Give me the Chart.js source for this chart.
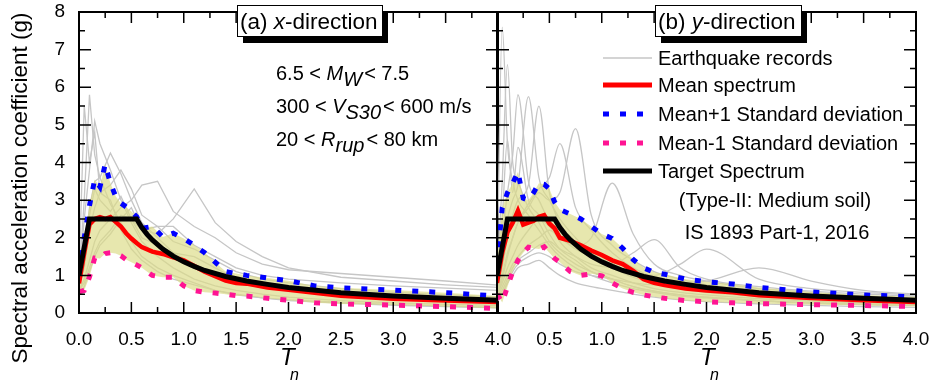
<!DOCTYPE html>
<html>
<head>
<meta charset="utf-8">
<script src="https://cdn.jsdelivr.net/npm/chart.js@4.4.1/dist/chart.umd.min.js"></script>
<style>
    body { margin: 0; background: #fff; }
    #grafici { position: relative; width: 932px; height: 382px; }
    #grafici canvas { position: absolute; left: 0; top: 0; }
</style>
</head>
<body>
<div id="grafici">
    <canvas id="chart-x" width="932" height="382"></canvas>
    <canvas id="chart-y" width="932" height="382"></canvas>
</div>
<script>
// ---------------- dati ----------------
// spettro di progetto IS 1893 (terreno medio)
var periodiTarget = [0, 0.1, 0.55, 0.6, 0.65, 0.7, 0.8, 0.9, 1.0, 1.1, 1.2, 1.4, 1.6, 1.8, 2.0, 2.5, 3.0, 3.5, 4.0];
var spettroTarget = [1.0, 2.5, 2.5, 2.27, 2.09, 1.94, 1.70, 1.51, 1.36, 1.24, 1.13, 0.97, 0.85, 0.76, 0.68, 0.54, 0.45, 0.39, 0.34];

// media e +/- 1 deviazione standard
var periodiMedia = [0, 0.05, 0.1, 0.15, 0.2, 0.25, 0.3, 0.35, 0.4, 0.45, 0.5, 0.55, 0.6, 0.7, 0.8, 0.9, 1.0, 1.1, 1.2, 1.3, 1.4, 1.5, 1.6, 1.8, 2.0, 2.25, 2.5, 3.0, 3.5, 4.0];
var mediaX   = [0.79, 1.6, 2.35, 2.5, 2.55, 2.5, 2.55, 2.42, 2.3, 2.12, 1.98, 1.86, 1.75, 1.63, 1.57, 1.48, 1.40, 1.25, 1.10, 0.98, 0.86, 0.80, 0.78, 0.68, 0.62, 0.54, 0.46, 0.38, 0.33, 0.29];
var piuSdX   = [1.06, 2.0, 2.85, 3.55, 3.35, 3.95, 3.45, 3.1, 2.92, 2.82, 2.7, 2.56, 2.25, 2.3, 2.02, 2.12, 1.98, 1.8, 1.6, 1.35, 1.1, 1.05, 1.0, 0.93, 0.86, 0.72, 0.67, 0.61, 0.54, 0.45];
var menoSdX  = [0.56, 0.6, 0.96, 1.46, 1.45, 1.58, 1.6, 1.58, 1.52, 1.42, 1.35, 1.28, 1.2, 1.0, 0.95, 0.95, 0.72, 0.6, 0.55, 0.53, 0.5, 0.46, 0.45, 0.39, 0.34, 0.27, 0.24, 0.21, 0.17, 0.12];
var mediaY   = [0.8, 1.6, 2.15, 2.4, 2.72, 2.35, 2.4, 2.45, 2.56, 2.6, 2.38, 2.25, 2.0, 1.92, 1.8, 1.66, 1.54, 1.4, 1.3, 1.12, 0.9, 0.8, 0.74, 0.65, 0.6, 0.55, 0.47, 0.4, 0.34, 0.29];
var piuSdY   = [1.3, 2.8, 3.2, 3.45, 3.75, 3.05, 3.0, 3.2, 3.45, 3.42, 3.3, 2.95, 2.75, 2.63, 2.5, 2.3, 2.1, 1.98, 1.72, 1.42, 1.2, 1.08, 1.03, 0.9, 0.83, 0.77, 0.68, 0.56, 0.48, 0.43];
var menoSdY  = [0.5, 0.28, 0.7, 1.1, 1.4, 1.6, 1.75, 1.72, 1.7, 1.76, 1.6, 1.45, 1.35, 1.1, 1.0, 1.04, 0.99, 0.8, 0.65, 0.55, 0.48, 0.43, 0.39, 0.33, 0.3, 0.27, 0.25, 0.22, 0.2, 0.17];

// registrazioni sismiche (grigio)
var periodiRecord = [0, 0.05, 0.1, 0.15, 0.2, 0.3, 0.4, 0.5, 0.6, 0.75, 0.9, 1.1, 1.3, 1.5, 1.75, 2.0, 2.5, 3.0, 3.5, 4.0];
var recX1 = [0.9, 3.0, 5.8, 4.2, 3.6, 2.9, 2.4, 1.9, 1.5, 1.2, 1.0, 0.8, 0.6, 0.5, 0.4, 0.35, 0.28, 0.22, 0.18, 0.15];
var recX2 = [1.0, 5.5, 4.0, 4.8, 3.2, 3.0, 2.2, 1.7, 1.4, 1.1, 0.9, 0.75, 0.6, 0.48, 0.4, 0.33, 0.26, 0.2, 0.17, 0.14];
var recX3 = [0.8, 2.5, 3.8, 5.1, 4.5, 3.8, 3.0, 2.4, 1.9, 1.5, 1.2, 0.9, 0.72, 0.6, 0.5, 0.42, 0.33, 0.27, 0.23, 0.2];
var recX4 = [0.8, 1.6, 2.8, 3.5, 3.6, 4.25, 3.7, 3.0, 2.4, 2.0, 1.6, 1.3, 1.0, 0.8, 0.68, 0.6, 0.5, 0.45, 0.4, 0.35];
var recX5 = [0.7, 1.2, 2.2, 2.8, 3.2, 3.4, 3.8, 3.3, 2.6, 2.3, 1.9, 1.7, 1.4, 1.1, 0.9, 0.8, 0.65, 0.55, 0.48, 0.42];
var recX6 = [0.6, 0.9, 1.4, 1.9, 2.2, 2.5, 2.8, 3.0, 3.4, 3.5, 2.7, 2.3, 2.0, 1.6, 1.3, 1.15, 1.05, 0.95, 0.85, 0.74];
var recX7 = [0.6, 0.8, 1.2, 1.6, 1.9, 2.2, 2.6, 2.5, 2.2, 2.1, 2.5, 3.3, 2.4, 1.9, 1.5, 1.2, 0.95, 0.85, 0.75, 0.68];
var recX8 = [0.5, 0.7, 1.1, 1.5, 1.8, 2.1, 2.5, 2.8, 2.2, 2.3, 2.3, 1.8, 1.5, 1.2, 1.0, 0.9, 0.8, 0.72, 0.66, 0.6];
var recX9 = [0.7, 1.4, 2.6, 3.3, 3.0, 2.7, 3.1, 2.5, 2.0, 1.8, 1.6, 1.5, 1.2, 0.9, 0.75, 0.6, 0.5, 0.42, 0.36, 0.3];

var recY1  = [0.8, 7.6, 4.5, 3.5, 3.0, 2.6, 2.2, 1.8, 1.5, 1.2, 1.0, 0.8, 0.65, 0.55, 0.45, 0.4, 0.32, 0.26, 0.22, 0.2];
var recY2  = [0.9, 3.5, 6.6, 4.0, 3.5, 2.8, 2.4, 1.9, 1.6, 1.3, 1.1, 0.9, 0.7, 0.58, 0.48, 0.42, 0.33, 0.27, 0.23, 0.2];
var recY3  = [0.7, 2.0, 3.2, 4.2, 5.8, 3.5, 3.0, 2.4, 1.9, 1.5, 1.2, 1.0, 0.8, 0.65, 0.55, 0.48, 0.38, 0.32, 0.27, 0.24];
var recY4  = [0.6, 1.5, 2.5, 3.0, 3.4, 5.75, 3.6, 3.0, 2.5, 2.0, 1.6, 1.3, 1.0, 0.8, 0.68, 0.58, 0.46, 0.38, 0.32, 0.28];
var recY5  = [0.5, 1.0, 1.6, 2.0, 2.4, 2.8, 3.2, 3.0, 3.2, 4.9, 2.6, 1.8, 1.4, 1.1, 0.9, 0.75, 0.6, 0.5, 0.42, 0.36];
var recY6  = [0.5, 0.8, 1.2, 1.5, 1.8, 2.2, 2.5, 2.3, 2.0, 1.8, 2.0, 3.45, 2.1, 1.3, 1.0, 0.85, 0.65, 0.55, 0.45, 0.4];
var recY7  = [0.4, 0.7, 1.0, 1.3, 1.5, 1.8, 2.0, 2.2, 2.0, 1.7, 1.5, 1.3, 1.6, 1.95, 1.2, 0.9, 0.7, 0.58, 0.5, 0.45];
var recY8  = [0.4, 0.6, 0.9, 1.2, 1.4, 1.6, 1.8, 1.9, 1.7, 1.5, 1.3, 1.2, 1.1, 1.0, 1.3, 1.7, 0.9, 0.65, 0.55, 0.48];
var recY9  = [0.3, 0.5, 0.8, 1.1, 1.3, 1.5, 1.6, 1.5, 1.3, 1.1, 1.0, 0.9, 0.8, 0.75, 0.8, 0.85, 1.2, 0.85, 0.6, 0.5];
var recY10 = [0.3, 0.5, 0.8, 1.0, 1.2, 1.3, 1.4, 1.2, 1.0, 0.8, 0.7, 0.6, 0.5, 0.42, 0.35, 0.3, 0.24, 0.2, 0.17, 0.15];
var recY11 = [0.5, 1.2, 2.0, 2.6, 3.0, 3.4, 5.5, 3.2, 2.4, 1.9, 1.5, 1.2, 0.95, 0.78, 0.64, 0.55, 0.44, 0.36, 0.3, 0.26];
var recY12 = [0.4, 0.9, 1.5, 2.0, 2.4, 2.9, 3.3, 3.6, 4.5, 2.8, 2.2, 1.6, 1.2, 0.95, 0.8, 0.68, 0.52, 0.43, 0.36, 0.31];
var recY13 = [0.6, 2.5, 4.6, 3.2, 4.4, 3.0, 2.6, 2.1, 1.7, 1.4, 1.1, 0.9, 0.7, 0.58, 0.48, 0.42, 0.33, 0.27, 0.23, 0.2];

// --------------------------------------------------------
var FONT = '"Liberation Sans", Arial, Helvetica, sans-serif';
Chart.defaults.font.family = FONT;
Chart.defaults.color = '#000';

function punti(periodi, valori) {
    return periodi.map(function(t, i) { return { x: t, y: valori[i] }; });
}

function creaDatasets(media, piuSd, menoSd, records, liscio) {
    var ds = [
        { label: 'Target Spectrum', data: punti(periodiTarget, spettroTarget), borderColor: '#000000', borderWidth: 5, order: 1 },
        { label: 'Mean spectrum', data: punti(periodiMedia, media), borderColor: '#ff0000', borderWidth: 4.5, order: 2 },
        { label: 'Mean-1 Standard deviation', data: punti(periodiMedia, menoSd), borderColor: '#ff1493', borderWidth: 5, borderDash: [6, 11], order: 3 },
        { label: 'Mean+1 Standard deviation', data: punti(periodiMedia, piuSd), borderColor: '#0000ff', borderWidth: 5, borderDash: [6, 11], order: 4,
          fill: { target: 2 }, backgroundColor: 'rgba(220,220,135,0.68)' }
    ];
    records.forEach(function(r) {
        ds.push({ label: 'Earthquake records', data: punti(periodiRecord, r), borderColor: '#c6c6c6', borderWidth: 1.3, order: 10,
                  cubicInterpolationMode: liscio ? 'monotone' : 'default' });
    });
    return ds;
}

function opzioni(destra) {
    var y = {
        type: 'linear', min: 0, max: 8, display: !destra,
        grid: { display: false, drawTicks: false }, border: { display: false },
        ticks: { stepSize: 1, padding: 14, font: { size: 19 } }
    };
    if (!destra) {
        // larghezza fissa, e niente spazio extra sopra per l'etichetta "8"
        y.afterFit = function(s) { s.width = 79; s.paddingTop = 0; s.paddingBottom = 0; };
    }
    return {
        responsive: false,
        animation: false,
        layout: { padding: destra ? { left: 497, right: 16, top: 12, bottom: 0 } : { left: 0, right: 434, top: 12, bottom: 0 } },
        elements: { point: { radius: 0 }, line: { tension: 0 } },
        plugins: { legend: { display: false }, tooltip: { enabled: false } },
        scales: {
            x: {
                type: 'linear', min: 0, max: 4,
                grid: { display: false, drawTicks: false }, border: { display: false },
                ticks: { stepSize: 0.5, padding: 15, font: { size: 19 },
                         callback: function(v) { return (destra && v === 0) ? '' : v.toFixed(1); } },
                afterFit: function(s) { s.height = 69; s.paddingLeft = 0; s.paddingRight = 0; }
            },
            y: y
        }
    };
}

// scrive un testo a pezzi (corsivo / pedice)
function scrivi(ctx, x, y, parti, size) {
    parti.forEach(function(p) {
        ctx.font = (p.it ? 'italic ' : '') + size + 'px ' + FONT;
        ctx.fillText(p.t, x + (p.dx || 0), y + (p.sub ? 6 : 0));
        x += ctx.measureText(p.t).width + (p.dx || 0);
    });
}

function riquadro(ctx, x, y, w, h, parti) {
    ctx.fillStyle = '#000';
    ctx.fillRect(x + 6, y + 7, w, h);
    ctx.fillStyle = '#fff';
    ctx.fillRect(x, y, w, h);
    ctx.strokeStyle = '#000';
    ctx.lineWidth = 1;
    ctx.strokeRect(x + 0.5, y + 0.5, w, h);
    ctx.fillStyle = '#000';
    ctx.textAlign = 'left';
    ctx.textBaseline = 'alphabetic';
    scrivi(ctx, x + 3, y + 24, parti, 22.5);
}

function titoloX(ctx, x) {
    ctx.fillStyle = '#000';
    ctx.textAlign = 'left';
    ctx.textBaseline = 'alphabetic';
    ctx.font = 'italic 24px ' + FONT;
    ctx.fillText('T', x, 365);
    ctx.font = 'italic 16px ' + FONT;
    ctx.fillText('n', x + 10, 380);
}

// cornice con tacche interne su tutti i lati
var cornice = {
    id: 'cornice',
    afterDatasetsDraw: function(chart) {
        var ctx = chart.ctx, a = chart.chartArea;
        var sx = chart.scales.x, sy = chart.scales.y;
        ctx.save();
        ctx.strokeStyle = '#000';
        ctx.lineWidth = 1.5;
        ctx.beginPath();
        for (var i = 1; i < 16; i++) {
            var px = sx.getPixelForValue(i * 0.25);
            var l = i % 2 === 0 ? 11 : 6;
            ctx.moveTo(px, a.bottom); ctx.lineTo(px, a.bottom - l);
            ctx.moveTo(px, a.top); ctx.lineTo(px, a.top + l);
        }
        for (var j = 1; j < 16; j++) {
            var py = sy.getPixelForValue(j * 0.5);
            var l2 = j % 2 === 0 ? 12 : 6;
            ctx.moveTo(a.left, py); ctx.lineTo(a.left + l2, py);
            ctx.moveTo(a.right, py); ctx.lineTo(a.right - l2, py);
        }
        ctx.stroke();
        ctx.lineWidth = 2;
        ctx.strokeRect(a.left, a.top, a.right - a.left, a.bottom - a.top);
        ctx.restore();
    }
};

var testiX = {
    id: 'testiX',
    afterDraw: function(chart) {
        var ctx = chart.ctx;
        ctx.save();
        riquadro(ctx, 237, 5, 145, 31, [{ t: '(a) ' }, { t: 'x', it: true }, { t: '-direction' }]);
        ctx.fillStyle = '#000';
        scrivi(ctx, 276, 80, [{ t: '6.5 < ' }, { t: 'M', it: true }, { t: 'W', it: true, sub: true }, { t: '< 7.5', dx: 2 }], 20);
        scrivi(ctx, 276, 113, [{ t: '300 < ' }, { t: 'V', it: true }, { t: 'S30', it: true, sub: true }, { t: '< 600 m/s', dx: 2 }], 20);
        scrivi(ctx, 276, 146, [{ t: '20 < ' }, { t: 'R', it: true }, { t: 'rup', it: true, sub: true }, { t: '< 80 km', dx: 2 }], 20);
        titoloX(ctx, 280);
        // titolo asse y
        ctx.translate(21, 188);
        ctx.rotate(-Math.PI / 2);
        ctx.textAlign = 'center';
        ctx.textBaseline = 'middle';
        ctx.font = '22.5px ' + FONT;
        ctx.fillText('Spectral acceleration coefficient (g)', 0, 0);
        ctx.restore();
    }
};

var testiY = {
    id: 'testiY',
    afterDraw: function(chart) {
        var ctx = chart.ctx;
        ctx.save();
        riquadro(ctx, 655, 5, 146, 31, [{ t: '(b) ' }, { t: 'y', it: true }, { t: '-direction' }]);
        // legenda
        var voci = [
            { testo: 'Earthquake records', y: 58, colore: '#c6c6c6', spessore: 1.5, dash: [] },
            { testo: 'Mean spectrum', y: 85, colore: '#ff0000', spessore: 5, dash: [] },
            { testo: 'Mean+1 Standard deviation', y: 114, colore: '#0000ff', spessore: 5, dash: [6, 11] },
            { testo: 'Mean-1 Standard deviation', y: 143, colore: '#ff1493', spessore: 5, dash: [6, 11] },
            { testo: 'Target Spectrum', y: 171, colore: '#000000', spessore: 5, dash: [] }
        ];
        voci.forEach(function(v) {
            ctx.strokeStyle = v.colore;
            ctx.lineWidth = v.spessore;
            ctx.setLineDash(v.dash);
            ctx.beginPath();
            ctx.moveTo(603, v.y);
            ctx.lineTo(652, v.y);
            ctx.stroke();
            ctx.setLineDash([]);
            ctx.fillStyle = '#000';
            ctx.textAlign = 'left';
            ctx.textBaseline = 'alphabetic';
            ctx.font = '20px ' + FONT;
            ctx.fillText(v.testo, 658, v.y + 7);
        });
        ctx.textAlign = 'center';
        ctx.fillText('(Type-II: Medium soil)', 775, 207);
        ctx.fillText('IS 1893 Part-1, 2016', 777, 239);
        titoloX(ctx, 700);
        ctx.restore();
    }
};

var graficoX = new Chart(document.getElementById('chart-x'), {
    type: 'line',
    data: { datasets: creaDatasets(mediaX, piuSdX, menoSdX, [recX1, recX2, recX3, recX4, recX5, recX6, recX7, recX8, recX9], false) },
    options: opzioni(false),
    plugins: [cornice, testiX]
});

var graficoY = new Chart(document.getElementById('chart-y'), {
    type: 'line',
    data: { datasets: creaDatasets(mediaY, piuSdY, menoSdY, [recY1, recY2, recY3, recY4, recY5, recY6, recY7, recY8, recY9, recY10, recY11, recY12, recY13], true) },
    options: opzioni(true),
    plugins: [cornice, testiY]
});
</script>
</body>
</html>
